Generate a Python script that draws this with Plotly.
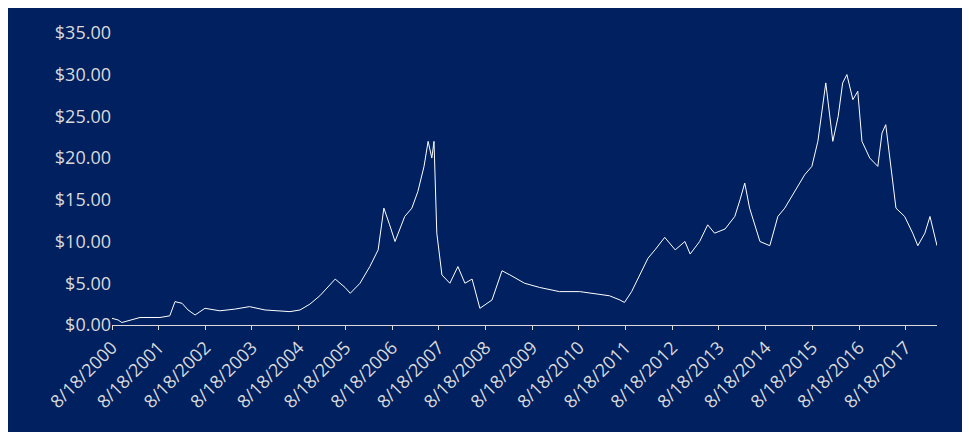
import plotly.graph_objects as go

dates = ["2000-08-18","2000-10-05","2000-11-03","2001-01-08","2001-03-25","2001-08-28","2001-11-13","2001-12-24",
         "2002-02-17","2002-04-05","2002-05-30","2002-08-15","2002-12-10","2003-04-05","2003-07-30","2003-11-28",
         "2004-03-25","2004-06-10","2004-08-28","2004-11-13","2005-01-30","2005-05-30","2005-08-15","2005-09-25",
         "2005-12-10","2006-02-25","2006-05-01","2006-06-15","2006-07-30","2006-09-10","2006-11-25","2007-01-20",
         "2007-03-08","2007-04-25","2007-05-27","2007-06-25","2007-07-12","2007-08-03","2007-09-12","2007-11-13",
         "2008-01-15","2008-03-10","2008-05-05","2008-07-05","2008-10-08","2008-12-25","2009-02-25","2009-06-20",
         "2009-10-15","2010-03-20","2010-08-25","2011-01-30","2011-04-15","2011-07-05","2011-08-10","2011-10-05",
         "2011-12-10","2012-02-10","2012-04-05","2012-06-20","2012-09-10","2012-11-25","2013-01-05","2013-03-20",
         "2013-05-22","2013-07-15","2013-10-05","2013-12-20","2014-01-30","2014-03-08","2014-04-15","2014-05-27",
         "2014-07-05","2014-09-20","2014-11-22","2015-01-15","2015-04-05","2015-06-20","2015-08-15","2015-10-01",
         "2015-12-02","2016-01-26","2016-03-08","2016-04-12","2016-05-15","2016-07-01","2016-08-08","2016-09-10",
         "2016-11-10","2017-01-12","2017-02-14","2017-03-15","2017-04-16","2017-06-03","2017-08-10","2017-10-12",
         "2017-11-21","2018-01-15","2018-02-24","2018-04-20"]
prices = [0.8,0.6,0.3,0.6,0.9,0.9,1.1,2.8,
          2.6,1.8,1.2,2.0,1.7,1.9,2.2,1.8,
          1.7,1.6,1.8,2.5,3.5,5.5,4.5,3.8,
          5,7,9,14,12,10,13,14,
          16,19,22,20,22,11,6,5,
          7,5,5.5,2,3,6.5,6,5,
          4.5,4,4,3.7,3.5,3,2.7,4,
          6,8,9,10.5,9,10,8.5,10,
          12,11,11.5,13,15,17,14,12,
          10,9.5,13,14,16,18,19,22,
          29,22,25,29,30,27,28,22,
          20,19,23,24,20,14,13,11,
          9.5,11,13,9.5]

tick_dates = ["%d-08-18" % y for y in range(2000, 2018)]
tick_text = ["8/18/%d" % y for y in range(2000, 2018)]
y_ticks = [0, 5, 10, 15, 20, 25, 30, 35]
y_text = ["$%.2f" % v for v in y_ticks]

fig = go.Figure()
fig.add_trace(go.Scatter(x=dates, y=prices, mode="lines", line=dict(color="white", width=1)))

fig.update_layout(
    width=970, height=432,
    paper_bgcolor="#002060", plot_bgcolor="#002060",
    margin=dict(l=104, r=41, t=12, b=115),
    showlegend=False,
    font=dict(family="Open Sans", color="#d9d9d9", size=18),
)
fig.update_xaxes(range=["2000-08-18", "2018-04-20"], tickvals=tick_dates, ticktext=tick_text,
                 tickangle=-45, showgrid=False, showline=True, linecolor="#d9d9d9",
                 ticks="outside", tickcolor="#d9d9d9", ticklen=4)
fig.update_yaxes(range=[0, 35.1], tickvals=y_ticks, ticktext=y_text,
                 showgrid=False, zeroline=False, showline=False)

fig.write_html("out.html")
